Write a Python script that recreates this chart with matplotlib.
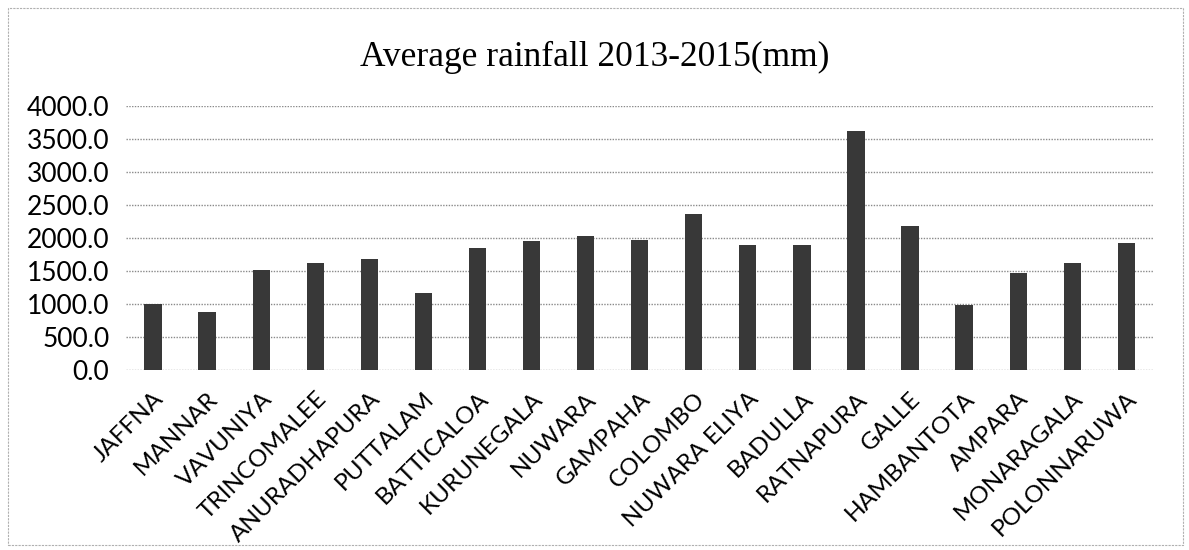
import numpy as np
import matplotlib.pyplot as plt
from matplotlib.patches import Rectangle

districts = ["JAFFNA", "MANNAR", "VAVUNIYA", "TRINCOMALEE", "ANURADHAPURA",
             "PUTTALAM", "BATTICALOA", "KURUNEGALA", "NUWARA", "GAMPAHA",
             "COLOMBO", "NUWARA ELIYA", "BADULLA", "RATNAPURA", "GALLE",
             "HAMBANTOTA", "AMPARA", "MONARAGALA", "POLONNARUWA"]
rainfall = [1005, 885, 1515, 1630, 1690, 1165, 1855, 1950, 2040, 1975,
            2370, 1900, 1900, 3630, 2180, 990, 1465, 1620, 1930]
yticks = [0, 500, 1000, 1500, 2000, 2500, 3000, 3500, 4000]

fig = plt.figure(figsize=(11.89, 5.5), dpi=100)
ax = fig.add_axes([0.106, 0.327, 0.864, 0.480])

x = np.arange(len(districts))
ax.bar(x, rainfall, width=0.32, color="#383838", zorder=3)

ax.set_xlim(-0.5, len(districts) - 0.5)
ax.set_ylim(0, 4000)
ax.set_yticks(yticks)
ax.set_yticklabels([f"{v:.1f}" for v in yticks], fontsize=19, family="Lato")
ax.set_xticks(x)
ax.set_xticklabels(districts, rotation=45, ha="right", rotation_mode="anchor",
                   fontsize=17.5, family="Lato")
ax.tick_params(axis="y", length=0, pad=12)
ax.tick_params(axis="x", length=0, pad=13)

ax.grid(axis="y", color="#8a8a8a", linestyle=(0, (1, 1)), linewidth=1, zorder=0)
for s in ax.spines.values():
    s.set_visible(False)

fig.suptitle("Average rainfall 2013-2015(mm)", x=0.5, y=0.925,
             fontsize=25.5, family="Liberation Serif")

# outer chart frame
fig.patches.append(Rectangle((0.007, 0.01), 0.988, 0.975, transform=fig.transFigure,
                             fill=False, edgecolor="#b0b0b0", linewidth=0.8,
                             linestyle=(0, (2, 1))))

fig.savefig("out.png", dpi=100)
